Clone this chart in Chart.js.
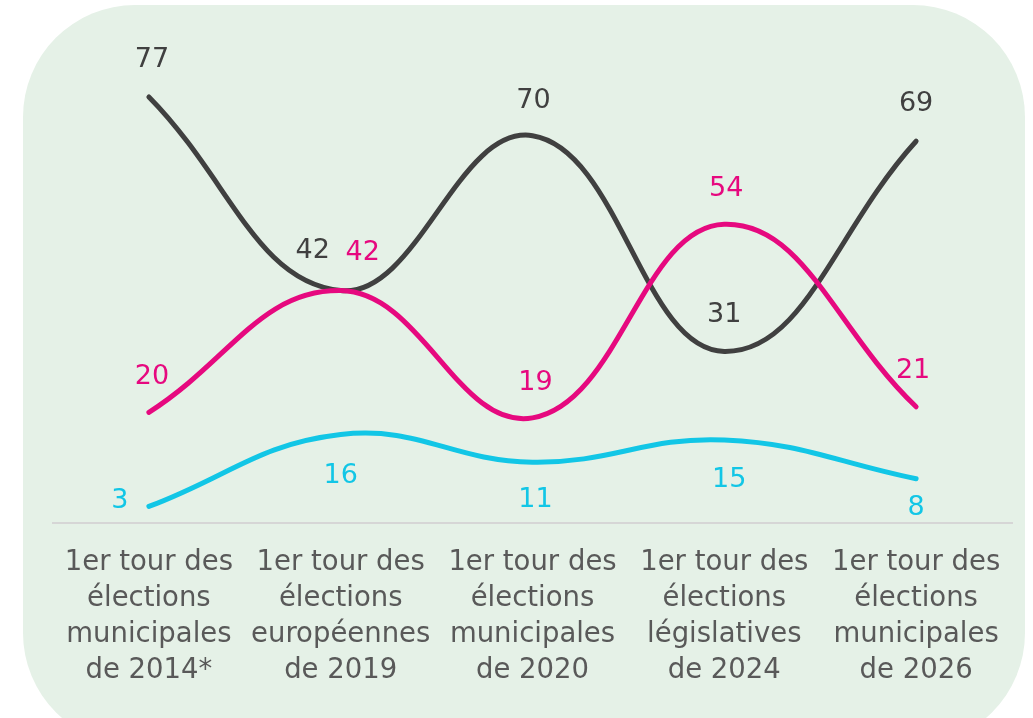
<!DOCTYPE html>
<html>
<head>
<meta charset="utf-8">
<script src="https://cdn.jsdelivr.net/npm/chart.js@4/dist/chart.umd.min.js"></script>
<style>
  html, body { margin: 0; padding: 0; background: #ffffff; overflow: hidden; }
  #wrap { position: relative; width: 1033px; height: 718px; }
  #bg { position: absolute; left: 23px; top: 5px; width: 1002px; height: 740px;
        background: #E5F1E7; border-radius: 112px; }
  #c { position: absolute; left: 0; top: 0; }
</style>
</head>
<body>
<div id="wrap">
  <div id="bg"></div>
  <canvas id="c" width="1033" height="718"></canvas>
</div>
<script>
// ---- data ----
const categories = [
  ["1er tour des", "élections", "municipales", "de 2014*"],
  ["1er tour des", "élections", "européennes", "de 2019"],
  ["1er tour des", "élections", "municipales", "de 2020"],
  ["1er tour des", "élections", "législatives", "de 2024"],
  ["1er tour des", "élections", "municipales", "de 2026"]
];
const seriesBlack = [77, 42, 70, 31, 69];
const seriesPink  = [20, 42, 19, 54, 21];
const seriesCyan  = [3, 16, 11, 15, 8];

// ---- label placement (style) ----
const offBlack = [[3, -37], [-28, -40], [1, -35], [0, -36], [0, -37]];
const offPink  = [[3, -35], [22, -38], [3, -35], [2, -35], [-3, -36]];
const offCyan  = [[-29, -5], [0, 42], [3, 38], [5, 40], [0, 29]];

const colBlack = '#404040';
const colPink  = '#E6097F';
const colCyan  = '#12C6E6';

const FONT = "'DejaVu Sans', sans-serif";

const labelPlugin = {
  id: 'valueLabels',
  afterDatasetsDraw(chart) {
    const ctx = chart.ctx;
    ctx.save();
    ctx.font = "27px " + FONT;
    ctx.textAlign = 'center';
    ctx.textBaseline = 'middle';
    chart.data.datasets.forEach((ds, di) => {
      const meta = chart.getDatasetMeta(di);
      meta.data.forEach((pt, i) => {
        const o = ds.labelOffsets[i];
        ctx.fillStyle = ds.borderColor;
        ctx.fillText(String(ds.data[i]), pt.x + o[0], pt.y + o[1]);
      });
    });
    ctx.restore();
  }
};

function lineDs(data, color, offs) {
  return {
    data: data,
    borderColor: color,
    backgroundColor: color,
    borderWidth: 5,
    borderCapStyle: 'round',
    borderJoinStyle: 'round',
    pointRadius: 0,
    pointHoverRadius: 0,
    tension: 0.42,
    fill: false,
    labelOffsets: offs
  };
}

new Chart(document.getElementById('c'), {
  type: 'line',
  data: {
    labels: categories,
    datasets: [
      lineDs(seriesCyan, colCyan, offCyan),
      lineDs(seriesPink, colPink, offPink),
      lineDs(seriesBlack, colBlack, offBlack)
    ]
  },
  options: {
    responsive: false,
    animation: false,
    events: [],
    layout: { padding: { left: 53, right: 21, top: 25, bottom: 0 } },
    plugins: { legend: { display: false }, tooltip: { enabled: false } },
    scales: {
      x: {
        offset: true,
        grid: { display: false, drawTicks: false },
        border: { display: true, color: '#D6D6D6', width: 2 },
        ticks: {
          color: '#595959',
          font: { family: FONT, size: 27.5, lineHeight: 1.31 },
          padding: 22,
          maxRotation: 0,
          minRotation: 0,
          autoSkip: false
        },
        afterFit(scale) { scale.height = 195; }
      },
      y: {
        display: false,
        min: 0,
        max: 90
      }
    }
  },
  plugins: [labelPlugin]
});
</script>
</body>
</html>
